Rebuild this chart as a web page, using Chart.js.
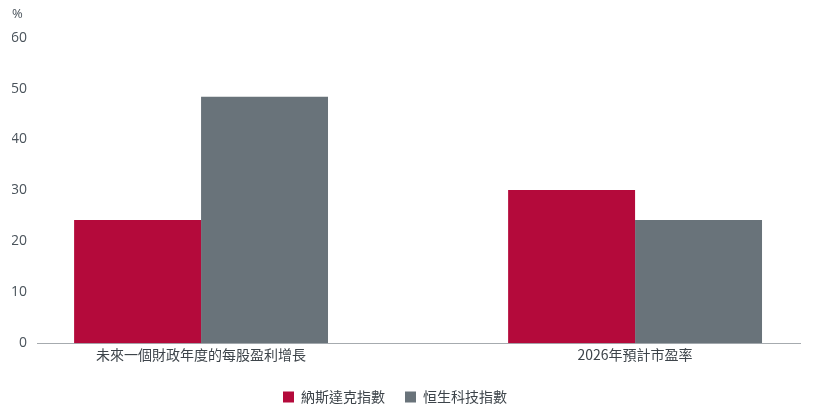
<!DOCTYPE html>
<html>
<head>
<meta charset="utf-8">
<script src="https://cdn.jsdelivr.net/npm/chart.js@4"></script>
<style>
  html, body { margin: 0; padding: 0; background: #fff; }
  #wrap { width: 820px; height: 408px; }
</style>
</head>
<body>
<div id="wrap"><canvas id="chart"></canvas></div>
<script>
const categories = ['未來一個財政年度的每股盈利增長', '2026年預計市盈率'];
const nasdaq = [24.2, 30.1];
const hstech = [48.4, 24.2];
const seriesNames = ['納斯達克指數', '恒生科技指數'];
const yTicks = [0, 10, 20, 30, 40, 50, 60];

const FONT = "'Open Sans', 'Noto Sans CJK TC', sans-serif";
const CJK = "'Noto Sans CJK TC', 'Open Sans', sans-serif";

// points on a linear x scale so the two groups sit where the original puts them
const toPoints = arr => arr.map((v, i) => ({ x: i, y: v }));

// the original legend sits a little left of the page centre
const legendShift = {
  id: 'legendShift',
  afterLayout(chart) {
    chart.legend.left -= 11;
    chart.legend.right -= 11;
  }
};

new Chart(document.getElementById('chart'), {
  type: 'bar',
  data: {
    datasets: [
      { label: seriesNames[0], data: toPoints(nasdaq), backgroundColor: '#b40a3b', borderWidth: 0 },
      { label: seriesNames[1], data: toPoints(hstech), backgroundColor: '#69737a', borderWidth: 0 }
    ]
  },
  options: {
    responsive: true, maintainAspectRatio: false, animation: false,
    categoryPercentage: 0.585, barPercentage: 1,
    layout: { padding: { left: 12, right: 20, top: 4, bottom: -6 } },
    plugins: {
      tooltip: { enabled: false },
      title: {
        display: true, text: '%', align: 'start', color: '#4a535b',
        font: { family: FONT, size: 13, weight: 'normal' },
        padding: { top: 2, bottom: 16 }
      },
      legend: {
        position: 'bottom',
        labels: {
          boxWidth: 11, boxHeight: 11, padding: 20, color: '#3d444a',
          font: { family: CJK, size: 14 }
        }
      }
    },
    scales: {
      x: {
        type: 'linear', min: -0.378, max: 1.38, offset: false,
        grid: { display: false, drawTicks: false },
        border: { display: true, color: '#a6abaf', width: 1 },
        afterBuildTicks: s => { s.ticks = categories.map((_, i) => ({ value: i })); },
        afterFit: s => { s.height += 4; },
        ticks: {
          autoSkip: false, maxRotation: 0, padding: 3, color: '#3d444a',
          font: { family: CJK, size: 14 },
          callback: v => categories[v]
        }
      },
      y: {
        min: 0, max: 60,
        grid: { display: false, drawTicks: false },
        border: { display: false },
        afterBuildTicks: s => { s.ticks = yTicks.map(v => ({ value: v })); },
        afterFit: s => { s.width = 25; },
        ticks: {
          padding: 10, color: '#4a535b',
          font: { family: FONT, size: 14, weight: 'normal' }
        }
      }
    }
  },
  plugins: [legendShift]
});
</script>
</body>
</html>
